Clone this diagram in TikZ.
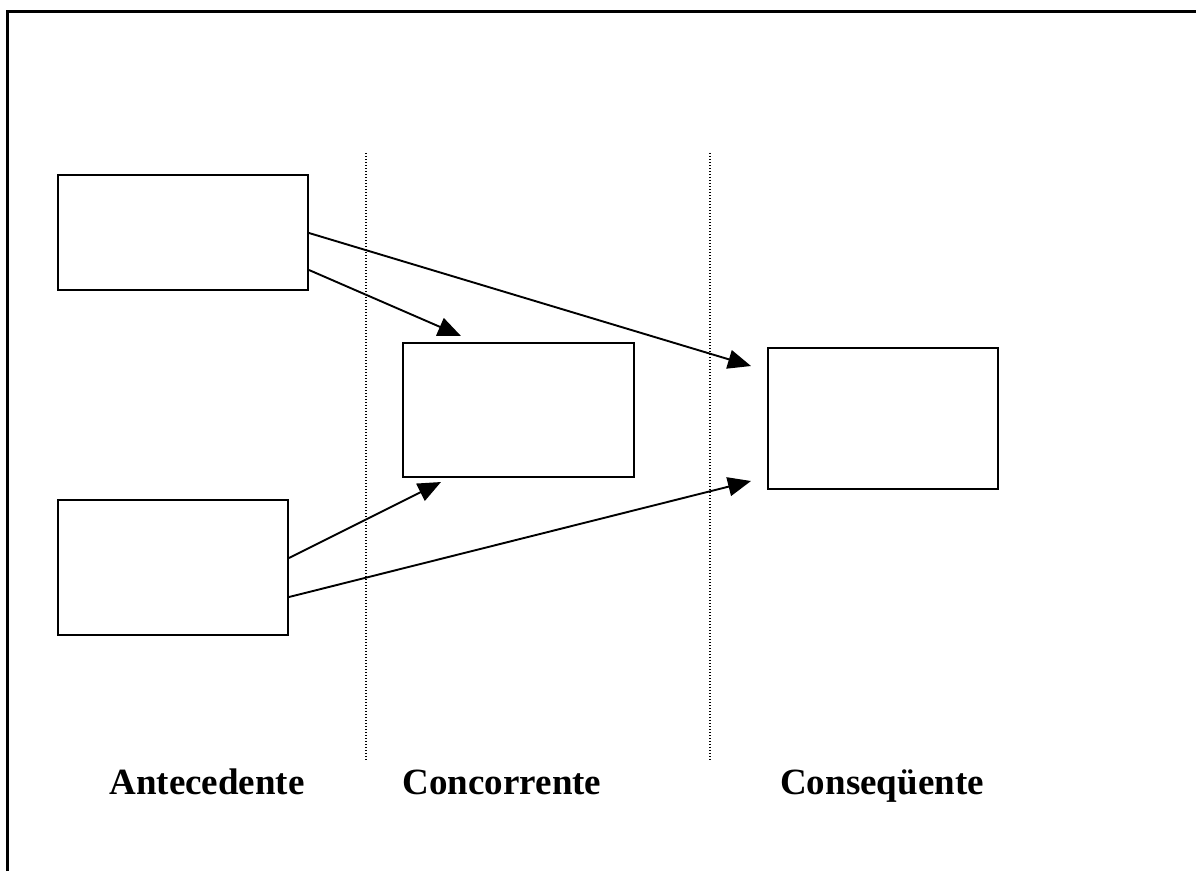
\documentclass[tikz,border=0pt]{standalone}
\usepackage{fontspec}
\setmainfont{Liberation Serif}
\usetikzlibrary{arrows.meta}
\begin{document}
\begin{tikzpicture}[x=1pt,y=-1pt,
  boxnode/.style={draw,line width=2pt,inner sep=0pt},
  conn/.style={line width=1.9pt,-{Triangle[length=23pt,width=19pt]}},
  sep/.style={line width=1.3pt,dash pattern=on 1.3pt off 1.7pt},
  lbl/.style={font=\fontsize{37}{40}\selectfont\bfseries,anchor=base}]
\useasboundingbox (0,0) rectangle (1196,871);
\draw[line width=3pt] (7,871) -- (7,11) -- (1196,11);
% separators
\draw[sep] (366,153) -- (366,760);
\draw[sep] (710,153) -- (710,760);
% boxes
\node[boxnode,minimum width=250pt,minimum height=115pt] (a1) at (183,232.5) {};
\node[boxnode,minimum width=230pt,minimum height=135pt] (a2) at (173,567.5) {};
\node[boxnode,minimum width=231pt,minimum height=134pt] (c) at (518.5,410) {};
\node[boxnode,minimum width=230pt,minimum height=141pt] (q) at (883,418.5) {};
% arrow tips
\coordinate (t1) at (751,366);
\coordinate (t2) at (461,336);
\coordinate (t3) at (441,482);
\coordinate (t4) at (751,481);
\draw[conn] (a1.east |- 0,233) -- (t1);
\draw[conn] (a1.east |- 0,270) -- (t2);
\draw[conn] (a2.east |- 0,558) -- (t3);
\draw[conn] (a2.east |- 0,597) -- (t4);
% labels
\node[lbl] (l1) at (207,794) {Antecedente};
\node[lbl] (l2) at (502,794) {Concorrente};
\node[lbl] (l3) at (882,794) {Conseqüente};
\end{tikzpicture}
\end{document}
